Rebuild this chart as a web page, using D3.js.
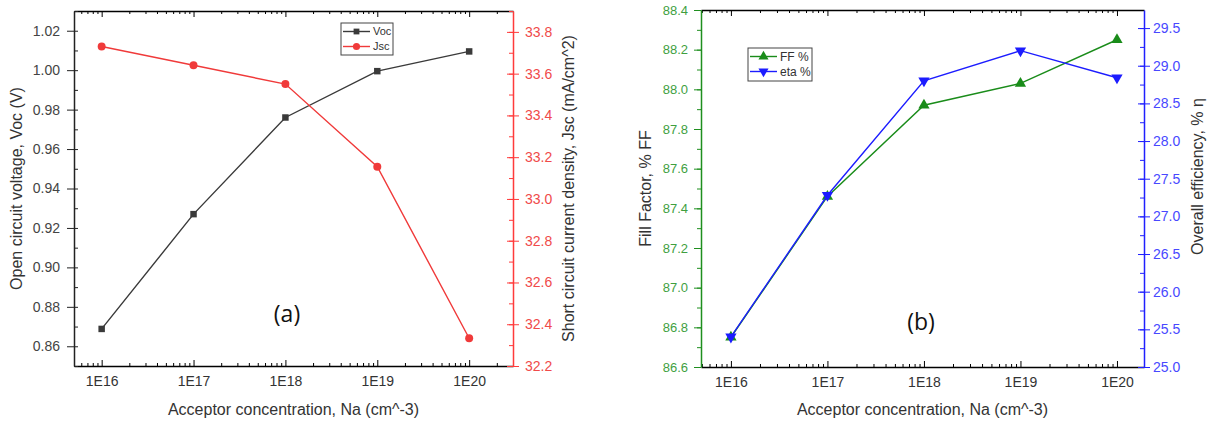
<!DOCTYPE html>
<html>
<head>
<meta charset="utf-8">
<script src="https://cdn.jsdelivr.net/npm/d3@7/dist/d3.min.js"></script>
<style>
body { margin: 0; background: #fff; }
svg text { font-family: Arial, "Liberation Sans", sans-serif; }
</style>
</head>
<body>
<div id="chart"></div>
<script>
// data
var concentrations = [1e16, 1e17, 1e18, 1e19, 1e20];
var concLabels = ["1E16", "1E17", "1E18", "1E19", "1E20"];

var vocValues = [0.8688, 0.927, 0.976, 0.9995, 1.0095];
var jscValues = [33.73, 33.64, 33.55, 33.154, 32.333];
var ffValues = [86.75, 87.46, 87.92, 88.03, 88.25];
var etaValues = [25.40, 27.28, 28.80, 29.20, 28.84];

var vocTicks = [0.86, 0.88, 0.90, 0.92, 0.94, 0.96, 0.98, 1.00, 1.02];
var jscTicks = [32.2, 32.4, 32.6, 32.8, 33.0, 33.2, 33.4, 33.6, 33.8];
var ffTicks = [86.6, 86.8, 87.0, 87.2, 87.4, 87.6, 87.8, 88.0, 88.2, 88.4];
var etaTicks = [25.0, 25.5, 26.0, 26.5, 27.0, 27.5, 28.0, 28.5, 29.0, 29.5];

var svg = d3.select("#chart").append("svg")
    .attr("width", 1212)
    .attr("height", 425);

function minorTicks(domain, step) {
    return d3.range(Math.ceil(domain[0] / step - 1e-6) * step, domain[1] + 1e-9, step)
        .map(function(d){ return +d.toFixed(4); });
}

function drawPanel(cfg) {
    var g = svg.append("g");

    var x = d3.scaleLog().domain(cfg.xDomain).range([cfg.left, cfg.right]);
    var yL = d3.scaleLinear().domain(cfg.yL.domain).range([cfg.bottom, cfg.top]);
    var yR = d3.scaleLinear().domain(cfg.yR.domain).range([cfg.bottom, cfg.top]);

    // log minor ticks 2..9 in each decade
    var xMinor = [];
    for (var e = 15; e <= 20; e++) {
        for (var k = 2; k <= 9; k++) {
            var v = k * Math.pow(10, e);
            if (v > cfg.xDomain[0] && v < cfg.xDomain[1]) xMinor.push(v);
        }
    }

    // bottom axis
    var bottom = g.append("g")
        .attr("transform", "translate(0," + cfg.bottom + ")")
        .call(d3.axisBottom(x).tickValues(concentrations)
            .tickFormat(function(d, i){ return concLabels[i]; })
            .tickSize(-6).tickSizeOuter(0).tickPadding(10));
    bottom.selectAll("text").style("font-size", "14px").attr("fill", "#333");
    g.append("g")
        .attr("transform", "translate(0," + cfg.bottom + ")")
        .call(d3.axisBottom(x).tickValues(xMinor).tickFormat("").tickSize(-3).tickSizeOuter(0))
        .select(".domain").remove();

    // top axis, ticks only
    g.append("g")
        .attr("transform", "translate(0," + cfg.top + ")")
        .call(d3.axisTop(x).tickValues(concentrations).tickFormat("").tickSize(-6).tickSizeOuter(0));
    g.append("g")
        .attr("transform", "translate(0," + cfg.top + ")")
        .call(d3.axisTop(x).tickValues(xMinor).tickFormat("").tickSize(-3).tickSizeOuter(0))
        .select(".domain").remove();

    // left y axis
    var la = g.append("g")
        .attr("transform", "translate(" + cfg.left + ",0)")
        .call(d3.axisLeft(yL).tickValues(cfg.yL.ticks).tickFormat(d3.format(cfg.yL.fmt))
            .tickSize(7).tickSizeOuter(0).tickPadding(cfg.yL.pad));
    la.selectAll("text").style("font-size", cfg.yL.fontSize).attr("fill", cfg.yL.labelColor);
    la.selectAll("line, path").attr("stroke", cfg.yL.color);
    g.append("g")
        .attr("transform", "translate(" + cfg.left + ",0)")
        .call(d3.axisLeft(yL).tickValues(minorTicks(cfg.yL.domain, cfg.yL.minor)).tickFormat("")
            .tickSize(cfg.yL.minorSize).tickSizeOuter(0))
        .call(function(s){ s.select(".domain").remove(); s.selectAll("line").attr("stroke", cfg.yL.color); });

    // right y axis
    var ra = g.append("g")
        .attr("transform", "translate(" + cfg.right + ",0)")
        .call(d3.axisRight(yR).tickValues(cfg.yR.ticks).tickFormat(d3.format(cfg.yR.fmt))
            .tickSize(6).tickSizeOuter(0).tickPadding(cfg.yR.pad));
    ra.selectAll("text").style("font-size", cfg.yR.fontSize).attr("fill", cfg.yR.labelColor);
    ra.selectAll("line, path").attr("stroke", cfg.yR.color);
    g.append("g")
        .attr("transform", "translate(" + cfg.right + ",0)")
        .call(d3.axisRight(yR).tickValues(cfg.yR.ticks).tickFormat("").tickSize(-6).tickSizeOuter(0))
        .call(function(s){ s.select(".domain").remove(); s.selectAll("line").attr("stroke", cfg.yR.color); });
    g.append("g")
        .attr("transform", "translate(" + cfg.right + ",0)")
        .call(d3.axisRight(yR).tickValues(minorTicks(cfg.yR.domain, cfg.yR.minor)).tickFormat("")
            .tickSize(-4).tickSizeOuter(0))
        .call(function(s){ s.select(".domain").remove(); s.selectAll("line").attr("stroke", cfg.yR.color); });

    g.selectAll(".domain").attr("stroke-width", 1.5);

    // axis titles
    var midY = (cfg.top + cfg.bottom) / 2;
    g.append("text")
        .attr("text-anchor", "middle")
        .attr("transform", "translate(" + cfg.yL.titleX + "," + (midY + (cfg.yL.titleDy || 0)) + ")rotate(-90)")
        .style("font-size", "16px").attr("fill", "#333")
        .text(cfg.yL.title);
    g.append("text")
        .attr("text-anchor", "middle")
        .attr("transform", "translate(" + cfg.yR.titleX + "," + (midY + (cfg.yR.titleDy || 0)) + ")rotate(-90)")
        .style("font-size", "16px").attr("fill", "#333")
        .text(cfg.yR.title);
    g.append("text")
        .attr("text-anchor", "middle")
        .attr("x", (cfg.left + cfg.right) / 2)
        .attr("y", 415)
        .style("font-size", "16px").attr("fill", "#333")
        .text("Acceptor concentration, Na (cm^-3)");

    // series
    cfg.series.forEach(function(s){
        var y = s.axis === "left" ? yL : yR;
        var line = d3.line()
            .x(function(d, i){ return x(concentrations[i]); })
            .y(function(d){ return y(d); });
        g.append("path")
            .datum(s.values)
            .attr("d", line)
            .attr("fill", "none")
            .attr("stroke", s.color)
            .attr("stroke-width", 1.4);
        g.selectAll(".pt-" + s.name)
            .data(s.values).enter()
            .append("path")
            .attr("d", d3.symbol().type(s.symbol).size(s.size))
            .attr("transform", function(d, i){
                return "translate(" + x(concentrations[i]) + "," + y(d) + ")" + (s.flip ? "rotate(180)" : "");
            })
            .attr("fill", s.color);
    });

    // legend
    var lg = cfg.legend;
    g.append("rect")
        .attr("x", lg.x).attr("y", lg.y)
        .attr("width", lg.w).attr("height", lg.h)
        .attr("fill", "#fff").attr("stroke", "#444").attr("stroke-width", 1);
    cfg.series.forEach(function(s, i){
        var ry = lg.y + lg.rowY + i * lg.rowH;
        g.append("line")
            .attr("x1", lg.x + 2).attr("x2", lg.x + 2 + lg.sample)
            .attr("y1", ry).attr("y2", ry)
            .attr("stroke", s.color).attr("stroke-width", 1.4);
        g.append("path")
            .attr("d", d3.symbol().type(s.symbol).size(s.size * 0.8))
            .attr("transform", "translate(" + (lg.x + 2 + lg.sample / 2) + "," + ry + ")" + (s.flip ? "rotate(180)" : ""))
            .attr("fill", s.color);
        g.append("text")
            .attr("x", lg.x + 5 + lg.sample)
            .attr("y", ry)
            .attr("dy", "0.35em")
            .style("font-size", lg.fontSize).attr("fill", "#333")
            .text(s.label);
    });

    // panel tag
    g.append("text")
        .attr("x", cfg.tag.x).attr("y", cfg.tag.y)
        .attr("text-anchor", "middle")
        .style("font-family", "'Open Sans', sans-serif")
        .style("font-size", "23px").attr("fill", "#111")
        .text(cfg.tag.text);
}

drawPanel({
    left: 74, right: 513, top: 11, bottom: 366,
    xDomain: [5e15, 3e20],
    yL: { domain: [0.85, 1.03], ticks: vocTicks, minor: 0.01, minorSize: -4, fmt: ".2f", pad: 7,
          color: "#222", labelColor: "#444", fontSize: "14px",
          title: "Open circuit voltage, Voc (V)", titleX: 22 },
    yR: { domain: [32.2, 33.9], ticks: jscTicks, minor: 0.1, fmt: ".1f", pad: 6,
          color: "#ff3b3b", labelColor: "#f04a4a", fontSize: "14px",
          title: "Short circuit current density, Jsc (mA/cm^2)", titleX: 574 },
    series: [
        { name: "voc", label: "Voc", values: vocValues, axis: "left", color: "#3a3a3a", symbol: d3.symbolSquare, size: 42 },
        { name: "jsc", label: "Jsc", values: jscValues, axis: "right", color: "#f03a3a", symbol: d3.symbolCircle, size: 50 }
    ],
    legend: { x: 341, y: 23, w: 52, h: 32, rowY: 8.5, rowH: 15, sample: 27, fontSize: "11px" },
    tag: { text: "(a)", x: 287, y: 322 }
});

drawPanel({
    left: 701, right: 1144, top: 10, bottom: 367,
    xDomain: [Math.pow(10, 15.69), Math.pow(10, 20.28)],
    yL: { domain: [86.6, 88.4], ticks: ffTicks, minor: 0.1, minorSize: 4, fmt: ".1f", pad: 6,
          color: "#1f8f1f", labelColor: "#3f9f3f", fontSize: "13px",
          title: "Fill Factor, % FF", titleX: 651 },
    yR: { domain: [25, 29.74], ticks: etaTicks, minor: 0.25, fmt: ".1f", pad: 3,
          color: "#2020ff", labelColor: "#4848ff", fontSize: "14px",
          title: "Overall efficiency, % \u03b7", titleX: 1203, titleDy: -12 },
    series: [
        { name: "ff", label: "FF %", values: ffValues, axis: "left", color: "#1a8c1a", symbol: d3.symbolTriangle, size: 55 },
        { name: "eta", label: "eta %", values: etaValues, axis: "right", color: "#1c1cff", symbol: d3.symbolTriangle, size: 55, flip: true }
    ],
    legend: { x: 748, y: 48, w: 64, h: 33, rowY: 8.5, rowH: 15, sample: 27, fontSize: "12px" },
    tag: { text: "(b)", x: 921, y: 330 }
});
</script>
</body>
</html>
